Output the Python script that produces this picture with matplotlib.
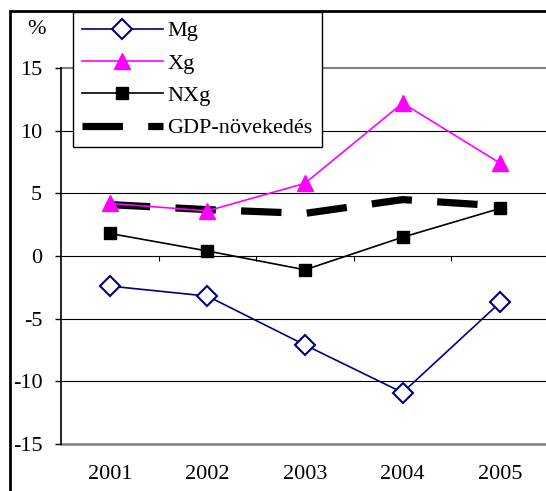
import matplotlib
matplotlib.use("Agg")
import matplotlib.pyplot as plt
import matplotlib.transforms as mtrans

plt.rcParams['font.family'] = ['Liberation Serif', 'DejaVu Serif']
plt.rcParams['axes.unicode_minus'] = False

# adatok
years = ['2001', '2002', '2003', '2004', '2005']
mg = [-2.4, -3.2, -7.1, -10.9, -3.7]
xg = [4.2, 3.6, 5.8, 12.2, 7.4]
nxg = [1.8, 0.4, -1.1, 1.5, 3.8]
gdp = [4.1, 3.7, 3.4, 4.5, 4.0]
yticks = [-15, -10, -5, 0, 5, 10, 15]

fig = plt.figure(figsize=(5.46, 4.91), dpi=100)
ax = fig.add_axes([61/546, 1-444/491, 488/546, 376/491])

x = list(range(len(years)))

for v in [-10, -5, 5, 10]:
    ax.axhline(v, color='black', lw=0.8, zorder=1)
ax.axhline(15, color='#808080', lw=1.5, zorder=1, clip_on=False)
ax.axhline(-15, color='#808080', lw=1.8, zorder=1, clip_on=False)

ax.plot(x, mg, color='#000080', lw=1.2, marker='D', ms=10, mfc='white',
        mec='#000080', mew=1.5, label='Mg', zorder=5)
ax.plot(x, xg, color='#FF00FF', lw=1.2, marker='^', ms=11, mfc='#FF00FF',
        mec='#FF00FF', label='Xg', zorder=5)
ax.plot(x, nxg, color='black', lw=1.2, marker='s', ms=8.5, mfc='black',
        mec='black', label='NXg', zorder=5)
ax.plot(x, gdp, color='black', lw=5.2, dashes=(5.6, 3.5), label='GDP-növekedés',
        zorder=4, solid_capstyle='butt', dash_capstyle='butt')

ax.set_xlim(-0.5, len(years) - 0.5)
ax.set_ylim(-15, 15)
ax.set_yticks(yticks)
ax.set_yticklabels([str(v) for v in yticks], fontsize=16)
ax.tick_params(axis='y', direction='out', length=4.5, width=1, pad=9)

ax.spines['bottom'].set_position(('data', 0))
ax.spines['bottom'].set_linewidth(0.8)
ax.spines['top'].set_visible(False)
ax.spines['right'].set_visible(False)
ax.spines['left'].set_linewidth(1.2)
ax.set_xticks([i + 0.5 for i in x[:-1]])
ax.set_xticklabels([])
ax.tick_params(axis='x', direction='out', length=3.6, width=0.8)

trans = mtrans.blended_transform_factory(ax.transData, ax.transAxes)
for i, lab in enumerate(years):
    ax.text(i, -0.08, lab, transform=trans, ha='center', va='center', fontsize=16)

fig.text(36/546, 1-30/491, '%', ha='center', va='center', fontsize=16)

leg = fig.legend(loc='upper left', bbox_to_anchor=(73/546, 1-12/491),
                 borderaxespad=0, fontsize=16, frameon=True, fancybox=False,
                 handlelength=3.65, handletextpad=0.2, labelspacing=0.53,
                 borderpad=0.4)
leg.get_frame().set_edgecolor('black')
leg.get_frame().set_linewidth(1)
leg.get_frame().set_alpha(1)

# keret
fig.add_artist(plt.Rectangle((10/546, -0.1), 1.2, 1-11/491+0.1,
                             transform=fig.transFigure, fill=False,
                             lw=2, ec='black'))

fig.savefig('out.png', dpi=100)
